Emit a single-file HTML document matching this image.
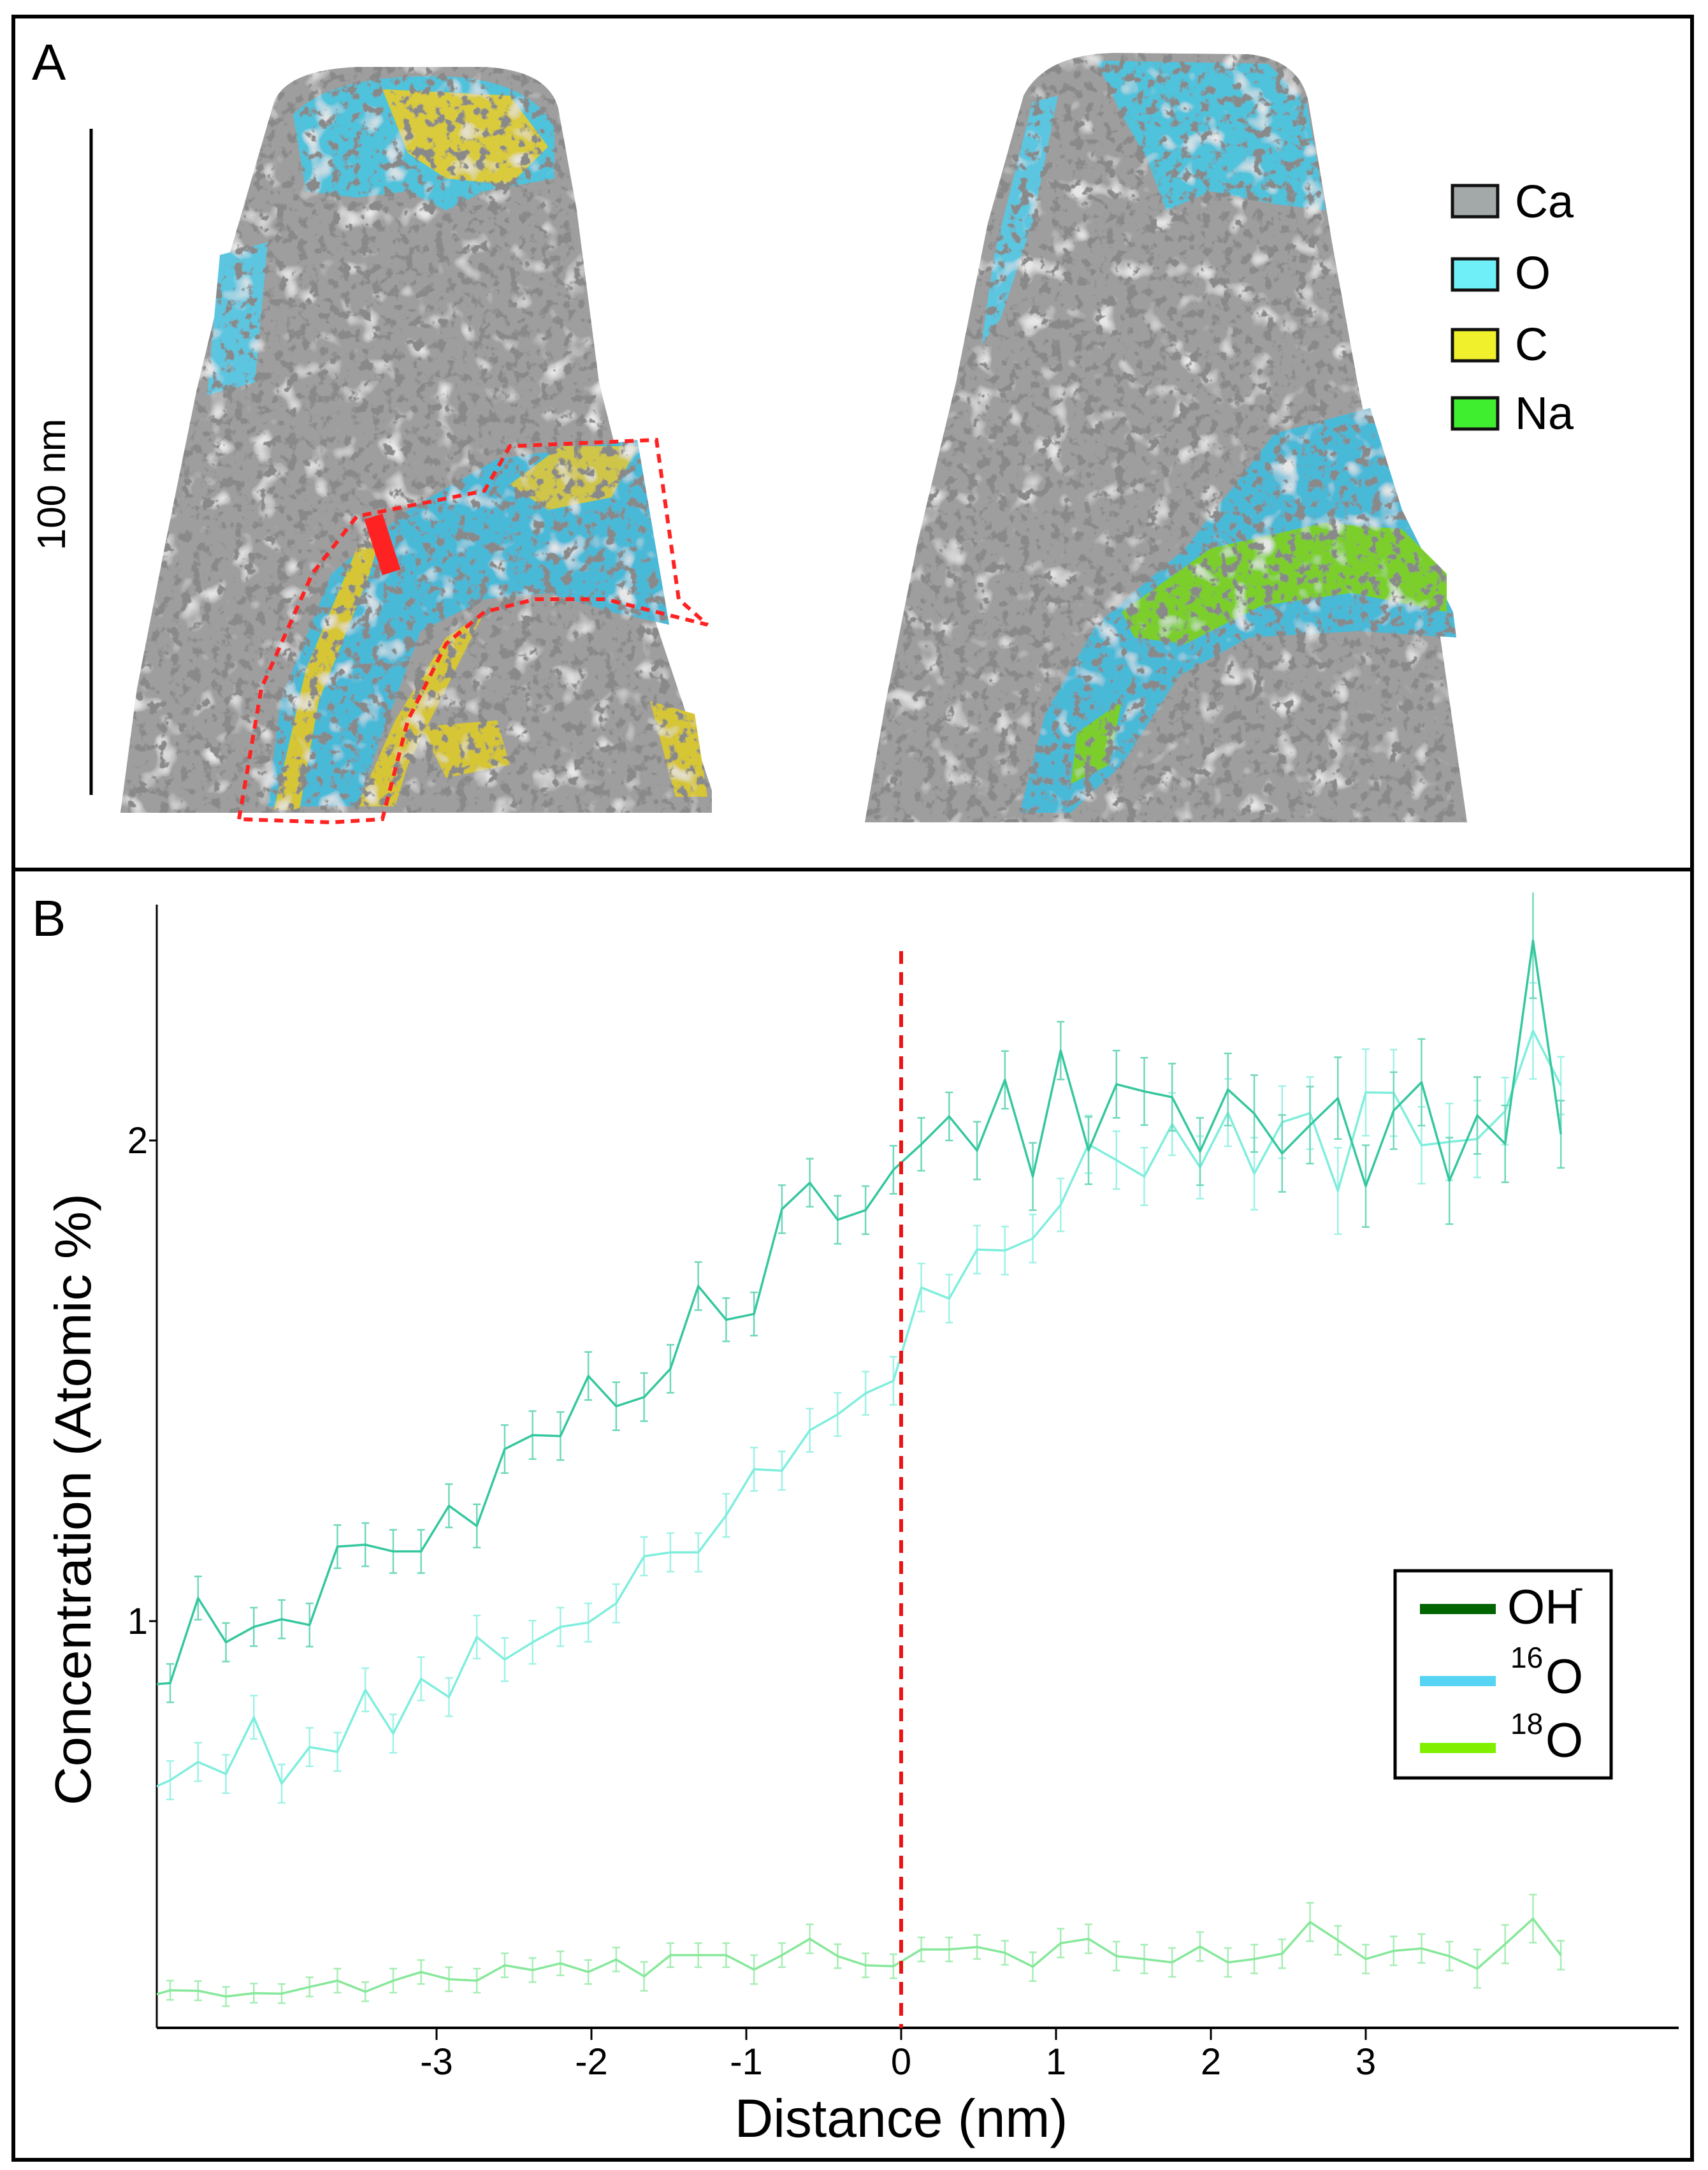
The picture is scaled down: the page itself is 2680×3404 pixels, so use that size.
<!DOCTYPE html>
<html><head><meta charset="utf-8"><style>
html,body{margin:0;padding:0;background:#fff}
svg{display:block}
text{font-family:"Liberation Sans",Arial,sans-serif}
</style></head><body>
<svg width="2680" height="3404" viewBox="0 0 2680 3404" xmlns="http://www.w3.org/2000/svg">
<defs>
<filter id="tex" x="0" y="0" width="100%" height="100%">
<feTurbulence type="fractalNoise" baseFrequency="0.06" numOctaves="3" seed="4" result="n"/>
<feColorMatrix in="n" type="matrix" values="0 0 0 0 0.25  0 0 0 0 0.25  0 0 0 0 0.25  0 0 0 -9 4.1" result="d"/>
<feComposite in="d" in2="SourceAlpha" operator="in" result="dd"/>
<feTurbulence type="fractalNoise" baseFrequency="0.025" numOctaves="2" seed="9" result="n2"/>
<feColorMatrix in="n2" type="matrix" values="0 0 0 0 0.8  0 0 0 0 0.8  0 0 0 0 0.8  0 0 0 4 -2.3" result="l"/>
<feComposite in="l" in2="SourceAlpha" operator="in" result="ll"/>
<feMerge><feMergeNode in="SourceGraphic"/><feMergeNode in="ll"/><feMergeNode in="dd"/></feMerge>
</filter>
<clipPath id="plotclip"><rect x="246" y="1400" width="2390" height="1782"/></clipPath>
</defs>
<rect x="0" y="0" width="2680" height="3404" fill="#fff"/>
<rect x="21" y="26" width="2634" height="3362" fill="none" stroke="#000" stroke-width="6"/>
<line x1="21" y1="1364" x2="2655" y2="1364" stroke="#000" stroke-width="6"/>

<g>
<text x="50" y="125" font-size="80">A</text>
<line x1="143" y1="202" x2="143" y2="1247" stroke="#000" stroke-width="5"/>
<text x="0" y="0" font-size="62" text-anchor="middle" transform="translate(102,760) rotate(-90)">100 nm</text>

<g filter="url(#tex)">
<path d="M430,160 Q450,110 560,105 L760,105 Q860,110 876,170 L905,330 L940,600 L980,760 L1030,980 L1117,1240 L1117,1275 L189,1275 L215,1080 L260,850 L309,610 L360,400 Z" fill="#9e9e9e"/>
<path d="M460,180 Q520,115 700,120 Q830,125 870,200 L870,280 L760,300 L700,330 L640,300 L560,310 L480,300 Z" fill="#4fc2dc"/>
<path d="M600,140 L800,150 L860,230 L800,290 L700,280 L640,240 Z" fill="#d9cb3a"/>
<path d="M345,400 L420,380 L400,600 L325,620 Z" fill="#5bc6e0"/>
<path d="M780,720 L1000,690 L1050,980 L960,960 L860,930 L760,940 L660,990 L600,1150 L560,1265 L420,1265 L440,1100 L520,900 L640,800 Z" fill="#49b9d8"/>
<path d="M430,1270 L480,1050 L560,860 L600,830 L580,900 L500,1100 L470,1270 Z" fill="#d6c634"/>
<path d="M560,1265 L620,1130 L700,1000 L760,960 L700,1080 L640,1200 L620,1265 Z" fill="#d6c634"/>
<path d="M660,1140 L780,1130 L800,1200 L700,1220 Z" fill="#d6c634"/>
<path d="M1020,1100 L1090,1120 L1110,1250 L1060,1250 Z" fill="#d6c634"/>
<path d="M800,760 L880,700 L1000,700 L960,780 L860,800 Z" fill="#cfc54a"/>
</g>
<g>
<path d="M375,1285 L410,1080 L490,900 L560,810 L660,790 L760,770 L800,700 L1030,690 L1065,940 L1110,980 L1030,960 L950,940 L840,940 L760,960 L700,1010 L640,1130 L600,1285 L520,1290 Z" fill="none" stroke="#f22" stroke-width="6" stroke-dasharray="14,10"/>
<rect x="585" y="808" width="30" height="92" fill="#f22" transform="rotate(-18 600 854)"/>
</g>

<g filter="url(#tex)">
<path d="M1606,150 Q1640,85 1750,83 L1960,85 Q2040,95 2053,160 L2090,380 L2130,600 L2170,800 L2260,1000 L2302,1290 L1357,1290 L1390,1100 L1440,850 L1500,600 L1550,350 Z" fill="#9e9e9e"/>
<path d="M1720,95 L1990,100 L2050,160 L2080,330 L2000,320 L1900,300 L1830,330 L1800,250 L1760,180 Z" fill="#4fc2dc"/>
<path d="M1620,160 L1660,150 L1620,350 L1570,500 L1540,540 L1560,400 Z" fill="#5bc6e0"/>
<path d="M2000,680 L2150,640 L2200,800 L2280,960 L2285,1000 L2130,990 L1960,1000 L1850,1060 L1760,1200 L1680,1275 L1600,1275 L1640,1120 L1720,980 L1860,860 Z" fill="#49b9d8"/>
<path d="M1760,960 L1900,860 L2080,820 L2200,830 L2270,900 L2270,960 L2120,930 L1980,950 L1860,1010 L1780,1000 Z" fill="#7ccf2c"/>
<path d="M1690,1150 L1760,1100 L1740,1200 L1680,1230 Z" fill="#7ccf2c"/>
</g>

<g>
<rect x="2279" y="291" width="71" height="49" fill="#a3a8a8" stroke="#111" stroke-width="5"/>
<text x="2377" y="341" font-size="72">Ca</text>
<rect x="2279" y="406" width="71" height="49" fill="#6ff0f8" stroke="#111" stroke-width="5"/>
<text x="2377" y="453" font-size="72">O</text>
<rect x="2279" y="517" width="71" height="49" fill="#f0f02c" stroke="#111" stroke-width="5"/>
<text x="2377" y="565" font-size="72">C</text>
<rect x="2279" y="624" width="71" height="49" fill="#40ee30" stroke="#111" stroke-width="5"/>
<text x="2377" y="673" font-size="72">Na</text>
</g>
</g>

<g>
<text x="50" y="1468" font-size="80">B</text>
<g id="chart"></g>
</g>
</svg>
<script>
const distances = [-4.90,-4.72,-4.54,-4.36,-4.18,-4.00,-3.82,-3.64,-3.46,-3.28,-3.10,-2.92,-2.74,-2.56,-2.38,-2.20,-2.02,-1.84,-1.66,-1.49,-1.31,-1.13,-0.95,-0.77,-0.59,-0.41,-0.23,-0.05,0.13,0.31,0.49,0.67,0.85,1.03,1.21,1.39,1.57,1.75,1.93,2.11,2.28,2.46,2.64,2.82,3.00,3.18,3.36,3.54,3.72,3.90,4.08,4.26];
const ohValues = [0.867,0.871,1.048,0.956,0.988,1.004,0.992,1.155,1.159,1.145,1.145,1.24,1.198,1.358,1.387,1.385,1.51,1.447,1.466,1.525,1.697,1.627,1.639,1.857,1.912,1.835,1.855,1.939,1.992,2.05,1.979,2.126,1.925,2.187,1.979,2.117,2.102,2.09,1.977,2.106,2.056,1.973,2.032,2.088,1.905,2.062,2.121,1.916,2.052,1.993,2.416,2.013];
const ohErr = [0.04,0.04,0.045,0.04,0.04,0.04,0.045,0.045,0.045,0.045,0.045,0.045,0.045,0.05,0.05,0.05,0.05,0.05,0.05,0.05,0.05,0.045,0.045,0.05,0.05,0.05,0.05,0.05,0.055,0.05,0.06,0.06,0.07,0.06,0.07,0.07,0.07,0.07,0.07,0.075,0.08,0.08,0.08,0.085,0.085,0.08,0.09,0.09,0.08,0.08,0.12,0.07];
const o16Values = [0.643,0.669,0.707,0.682,0.80,0.662,0.738,0.728,0.857,0.766,0.88,0.842,0.967,0.92,0.956,0.988,0.997,1.037,1.135,1.143,1.143,1.22,1.316,1.313,1.397,1.43,1.474,1.50,1.694,1.671,1.773,1.771,1.796,1.866,1.992,1.959,1.925,2.034,1.944,2.058,1.931,2.038,2.057,1.895,2.1,2.099,1.99,1.997,2.003,2.061,2.228,2.114];
const o16Err = [0.04,0.04,0.04,0.04,0.045,0.04,0.04,0.04,0.045,0.04,0.045,0.04,0.045,0.045,0.045,0.04,0.04,0.04,0.04,0.04,0.04,0.045,0.045,0.04,0.045,0.045,0.045,0.05,0.05,0.05,0.05,0.05,0.05,0.055,0.06,0.06,0.06,0.065,0.065,0.07,0.075,0.075,0.075,0.09,0.09,0.09,0.08,0.08,0.08,0.07,0.1,0.06];
const o18Values = [0.215,0.232,0.231,0.219,0.226,0.225,0.239,0.252,0.229,0.252,0.270,0.255,0.252,0.284,0.274,0.288,0.270,0.296,0.261,0.305,0.305,0.305,0.275,0.305,0.339,0.303,0.284,0.282,0.317,0.317,0.322,0.310,0.281,0.330,0.339,0.303,0.297,0.290,0.323,0.290,0.297,0.308,0.374,0.336,0.297,0.314,0.319,0.303,0.277,0.328,0.381,0.305];
const o18Err = [0.02,0.02,0.02,0.02,0.02,0.02,0.02,0.025,0.02,0.025,0.025,0.025,0.025,0.025,0.025,0.025,0.025,0.025,0.03,0.025,0.025,0.025,0.03,0.025,0.03,0.025,0.025,0.025,0.025,0.025,0.025,0.025,0.03,0.03,0.03,0.03,0.03,0.03,0.03,0.03,0.03,0.03,0.04,0.03,0.03,0.03,0.03,0.03,0.04,0.04,0.05,0.03];
const xTickValues = [-3,-2,-1,0,1,2,3];
const xTickLabels = ["-3","-2","-1","0","1","2","3"];
const yTickValues = [1,2];
const yTickLabels = ["1","2"];

const NS = "http://www.w3.org/2000/svg";
const X0 = 1414, XU = 243, Y2 = 1789, YU = 754;
function xs(v){ return X0 + v*XU; }
function ys(v){ return Y2 + (2 - v)*YU; }
const chart = document.getElementById('chart');
function mk(tag, attrs, parent){
  const e = document.createElementNS(NS, tag);
  for (const k in attrs) e.setAttribute(k, attrs[k]);
  (parent||chart).appendChild(e);
  return e;
}
const yAxis = mk('line',{x1:246,y1:1419,x2:246,y2:3181,stroke:'#000','stroke-width':3});


const xAxis = mk('line',{x1:246,y1:3181,x2:2634,y2:3181,stroke:'#000','stroke-width':4});


xTickValues.forEach((v,i)=>{
  const t = mk('line',{x1:xs(v),y1:3181,x2:xs(v),y2:3200,stroke:'#000','stroke-width':3});
  
  
  const l = mk('text',{x:xs(v),y:3254,'font-size':58,'text-anchor':'middle'});
  
  
  l.textContent = xTickLabels[i];
});
yTickValues.forEach((v,i)=>{
  const t = mk('line',{x1:234,y1:ys(v),x2:246,y2:ys(v),stroke:'#000','stroke-width':3});
  
  
  const l = mk('text',{x:232,y:ys(v)+20,'font-size':58,'text-anchor':'end'});
  
  
  l.textContent = yTickLabels[i];
});
const xt = mk('text',{x:1414,y:3352,'font-size':84,'text-anchor':'middle'});


xt.textContent = 'Distance (nm)';
const yt = mk('text',{x:0,y:0,'font-size':80,'text-anchor':'middle',transform:'translate(142,2352) rotate(-90)',textLength:960,lengthAdjust:'spacingAndGlyphs'});


yt.textContent = 'Concentration (Atomic %)';

const plot = mk('g',{'clip-path':'url(#plotclip)'});


function series(vals, errs, color, ecolor, name){
  const g = mk('g',{},plot);
  
  
  vals.forEach((v,i)=>{
    const x = xs(distances[i]), e = errs[i];
    const b = mk('path',{d:`M${x},${ys(v+e)}V${ys(v-e)}M${x-6},${ys(v+e)}h12M${x-6},${ys(v-e)}h12`,stroke:ecolor,'stroke-width':2.5,fill:'none'},g);
    
    
  });
  const p = mk('polyline',{points:vals.map((v,i)=>xs(distances[i])+','+ys(v)).join(' '),fill:'none',stroke:color,'stroke-width':3.5,'stroke-linejoin':'round'},g);
  
  
}
series(o18Values,o18Err,'#86e89a','#a6eeb4','o18-series');
series(o16Values,o16Err,'#7feedd','#9ff2e6','o16-series');
series(ohValues,ohErr,'#35c79e','#6fd8bb','oh-series');
const rl = mk('line',{x1:xs(0),y1:1492,x2:xs(0),y2:3181,stroke:'#ee1111','stroke-width':6,'stroke-dasharray':'20,13'});



const lg = mk('g',{});


mk('rect',{x:2189,y:2464,width:339,height:325,fill:'#fff',stroke:'#000','stroke-width':5},lg);
mk('rect',{x:2228,y:2516,width:119,height:16,fill:'#006400'},lg);
mk('rect',{x:2228,y:2629,width:119,height:16,fill:'#55d4f4'},lg);
mk('rect',{x:2228,y:2734,width:119,height:16,fill:'#80f000'},lg);
const t1 = mk('text',{x:2365,y:2547,'font-size':76},lg);


t1.textContent = 'OH';
const t1s = mk('text',{x:2470,y:2505,'font-size':44},lg);
t1s.textContent = '-';
const t2 = mk('text',{x:2370,y:2616,'font-size':46},lg);


t2.textContent = '16';
const t2b = mk('text',{x:2425,y:2656,'font-size':76},lg); t2b.textContent='O';
const t3 = mk('text',{x:2370,y:2720,'font-size':46},lg);


t3.textContent = '18';
const t3b = mk('text',{x:2425,y:2756,'font-size':76},lg); t3b.textContent='O';
</script>
</body></html>
